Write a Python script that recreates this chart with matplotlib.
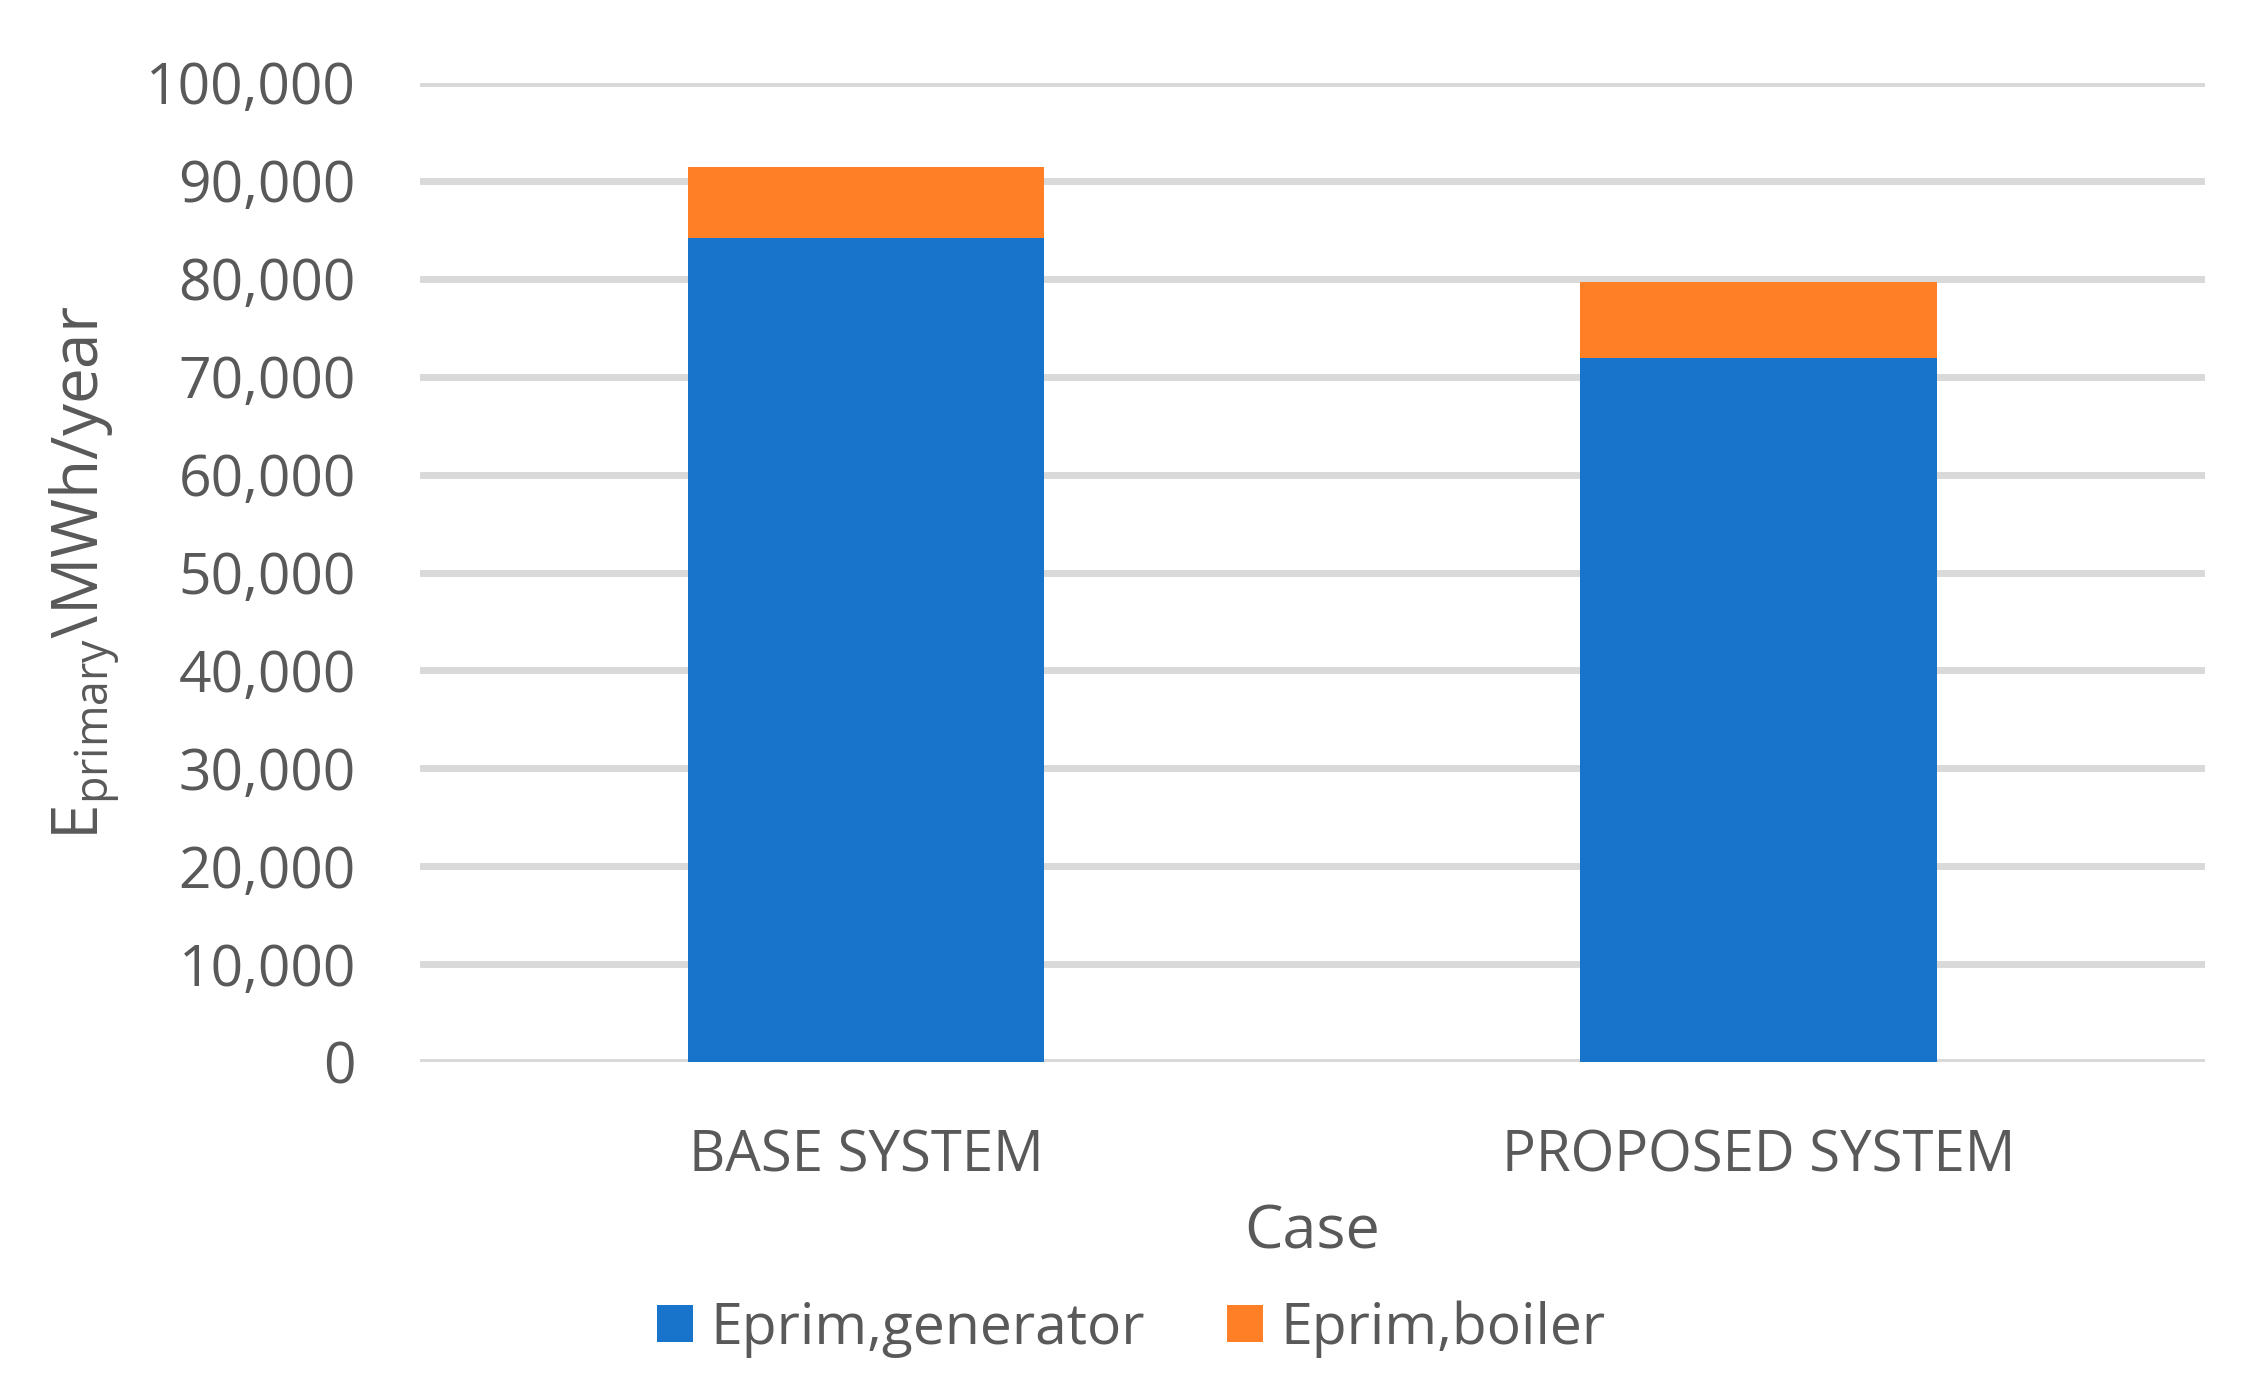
import numpy as np
import matplotlib
matplotlib.use("Agg")
import matplotlib.pyplot as plt
from matplotlib.ticker import FuncFormatter

# data
cases = ["BASE SYSTEM", "PROPOSED SYSTEM"]
eprim_generator = [84150, 71900]
eprim_boiler = [7300, 7750]
yticks = np.arange(0, 100001, 10000)

plt.rcParams["font.family"] = ["Open Sans", "DejaVu Sans"]
plt.rcParams["mathtext.fontset"] = "custom"
plt.rcParams["mathtext.rm"] = "Open Sans"
plt.rcParams["mathtext.it"] = "Open Sans"

grey = "#595959"
blue = "#1874cb"
orange = "#ff7f26"

fig = plt.figure(figsize=(22.45, 13.74), dpi=100)
ax = fig.add_axes([0.187, 0.227, 0.795, 0.7126])

x = np.arange(len(cases))
ax.bar(x, eprim_generator, width=0.4, color=blue, label="Eprim,generator", zorder=3)
ax.bar(x, eprim_boiler, width=0.4, bottom=eprim_generator, color=orange,
       label="Eprim,boiler", zorder=3)

ax.set_xlim(-0.5, 1.5)
ax.set_ylim(0, 100000)
ax.set_yticks(yticks)
ax.yaxis.set_major_formatter(FuncFormatter(lambda v, p: f"{int(v):,}"))
ax.set_xticks(x)
ax.set_xticklabels(cases)

ax.grid(axis="y", color="#d9d9d9", linewidth=5, zorder=0)
ax.set_axisbelow(True)
for s in ax.spines.values():
    s.set_visible(False)

ax.tick_params(axis="y", length=0, pad=46, labelsize=41, labelcolor=grey)
ax.tick_params(axis="x", length=0, pad=48, labelsize=40.5, labelcolor=grey)

ax.set_xlabel("Case", fontsize=44, color=grey, va="center")
ax.xaxis.set_label_coords(0.5, -0.174)
ax.set_ylabel(r"E$_{\mathregular{primary}}$\MWh/year", fontsize=46, color=grey, va="center")
ax.yaxis.set_label_coords(-0.188, 0.5)

leg = fig.legend(loc="center", bbox_to_anchor=(0.504, 0.0328), ncol=2, frameon=False,
                 fontsize=41, handlelength=0.63, handleheight=0.63,
                 handletextpad=0.3, columnspacing=1.45)
for t in leg.get_texts():
    t.set_color(grey)

fig.savefig("out.png", dpi=100)
